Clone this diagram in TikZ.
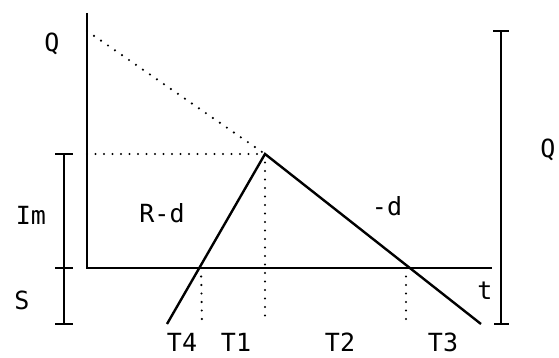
\documentclass[tikz,border=0pt]{standalone}
\usepackage{fontspec}
\setmonofont{DejaVu Sans Mono}
\begin{document}
\begin{tikzpicture}[x=1pt,y=-1pt,
  solidline/.style={line width=2pt},
  slopeline/.style={line width=2.4pt},
  thinline/.style={line width=1.8pt},
  dotline/.style={line width=2.4pt,line cap=round,dash pattern=on 0pt off 8.5pt},
  lbl/.style={font=\ttfamily\fontsize{25}{25}\selectfont,inner sep=0pt,anchor=base}]
\useasboundingbox (0,0) rectangle (559,358);
% key points
\coordinate (atop) at (87,13);
\coordinate (orig) at (87,268);
\coordinate (tend) at (492,268);
\coordinate (qpt) at (87,31);
\coordinate (hpt) at (87,154);
\coordinate (peak) at (265,154);
\coordinate (rstart) at (167,324);
\coordinate (fend) at (481,324);
\coordinate (c1) at (201,268);
\coordinate (c1b) at (202,324);
\coordinate (c2) at (406,268);
\coordinate (c2b) at (406,320);
\coordinate (pb) at (265,322);
% axes
\draw[solidline] (atop) -- (orig) -- (tend);
% dotted guides
\draw[dotline] (qpt) -- (peak);
\draw[dotline] (hpt) -- (peak);
\draw[dotline] (peak) -- (pb);
\draw[dotline] (c1) -- (c1b);
\draw[dotline] (c2) -- (c2b);
% inventory lines
\draw[slopeline] (rstart) -- (peak) -- (fend);
% left bracket
\coordinate (lb1) at (64,154);
\coordinate (lb2) at (64,268);
\coordinate (lb3) at (64,324);
\draw[thinline] (lb1) -- (lb3);
\draw[thinline] ([xshift=-9]lb1) -- ([xshift=9]lb1);
\draw[thinline] ([xshift=-9]lb2) -- ([xshift=9]lb2);
\draw[thinline] ([xshift=-9]lb3) -- ([xshift=9]lb3);
% right bracket
\coordinate (rb1) at (501,31);
\coordinate (rb2) at (501,324);
\draw[thinline] (rb1) -- (rb2);
\draw[thinline] ([xshift=-8]rb1) -- ([xshift=8]rb1);
\draw[thinline] ([xshift=-7]rb2) -- ([xshift=8]rb2);
% labels
\node[lbl] (lq) at (52,52) {Q};
\node[lbl] (lim) at (31,224) {Im};
\node[lbl] (ls) at (22,309) {S};
\node[lbl] (lrd) at (162,222) {R-d};
\node[lbl] (ld) at (387,215) {-d};
\node[lbl] (lt) at (485,299) {t};
\node[lbl] (rq) at (548,158) {Q};
\node[lbl] (t4) at (182,351) {T4};
\node[lbl] (t1) at (236,351) {T1};
\node[lbl] (t2) at (340,351) {T2};
\node[lbl] (t3) at (443,351) {T3};
\end{tikzpicture}
\end{document}
